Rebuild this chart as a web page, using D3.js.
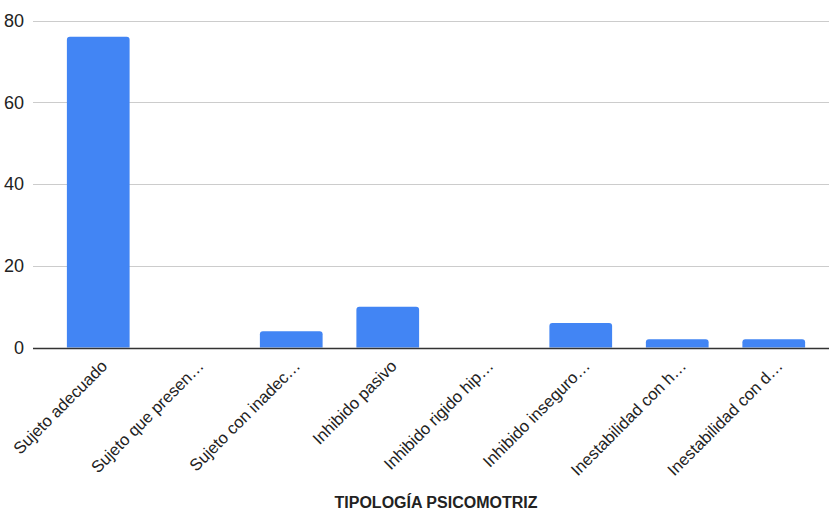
<!DOCTYPE html>
<html>
<head>
<meta charset="utf-8">
<script src="https://cdn.jsdelivr.net/npm/d3@7"></script>
<style>
  html, body { margin: 0; padding: 0; background: #fff; }
  svg { display: block; font-family: "Liberation Sans", Arial, sans-serif; }
</style>
</head>
<body>
<svg id="chart" width="829" height="511"></svg>
<script>
// Category labels (as shown, truncated) and counts
const categories = [
  "Sujeto adecuado",
  "Sujeto que presen…",
  "Sujeto con inadec…",
  "Inhibido pasivo",
  "Inhibido rigido hip…",
  "Inhibido inseguro…",
  "Inestabilidad con h…",
  "Inestabilidad con d…"
];
const values = [76, 0, 4, 10, 0, 6, 2, 2];
const yTicks = [0, 20, 40, 60, 80];
const xTitle = "TIPOLOGÍA PSICOMOTRIZ";

const svg = d3.select("#chart");
const W = 829, H = 511;

const x = d3.scaleBand()
  .domain(categories)
  .range([50, 822])
  .paddingInner(0.35)
  .paddingOuter(0.175);

const y = d3.scaleLinear()
  .domain([0, 80])
  .range([347.5, 20.5]);

// Gridlines
svg.append("g")
  .selectAll("line")
  .data(yTicks.filter(d => d !== 0))
  .join("line")
  .attr("x1", 33).attr("x2", W)
  .attr("y1", d => Math.round(y(d)) + 0.5)
  .attr("y2", d => Math.round(y(d)) + 0.5)
  .attr("stroke", "#cccccc")
  .attr("stroke-width", 1);

// Y tick labels
svg.append("g")
  .selectAll("text")
  .data(yTicks)
  .join("text")
  .attr("x", 24)
  .attr("y", d => y(d))
  .attr("dy", "0.36em")
  .attr("text-anchor", "end")
  .attr("font-size", 18)
  .attr("fill", "#222")
  .text(d => d);

// Bars with slightly rounded top corners
const r = 3;
function barPath(d, i) {
  const x0 = x(categories[i]);
  const w = x.bandwidth();
  const y0 = y(0);
  const y1 = y(d);
  const h = y0 - y1;
  if (h <= 0) return "";
  const rr = Math.min(r, h, w / 2);
  return `M${x0},${y0}V${y1 + rr}Q${x0},${y1} ${x0 + rr},${y1}` +
         `H${x0 + w - rr}Q${x0 + w},${y1} ${x0 + w},${y1 + rr}V${y0}Z`;
}
svg.append("g")
  .selectAll("path")
  .data(values)
  .join("path")
  .attr("d", barPath)
  .attr("fill", "#4285f4");

// Baseline
svg.append("line")
  .attr("x1", 33).attr("x2", W)
  .attr("y1", Math.round(y(0)) + 0.5)
  .attr("y2", Math.round(y(0)) + 0.5)
  .attr("stroke", "#333333")
  .attr("stroke-width", 1.3);

// Rotated category labels
svg.append("g")
  .selectAll("text")
  .data(categories)
  .join("text")
  .attr("transform", d => `translate(${x(d) + x.bandwidth() / 2 + 6},${363}) rotate(-45)`)
  .attr("text-anchor", "end")
  .attr("dy", "0.35em")
  .attr("font-size", 16.6)
  .attr("fill", "#222")
  .text(d => d);

// Axis title
svg.append("text")
  .attr("x", 436)
  .attr("y", 508)
  .attr("text-anchor", "middle")
  .attr("font-size", 16)
  .attr("font-weight", "bold")
  .attr("fill", "#222")
  .text(xTitle);
</script>
</body>
</html>
